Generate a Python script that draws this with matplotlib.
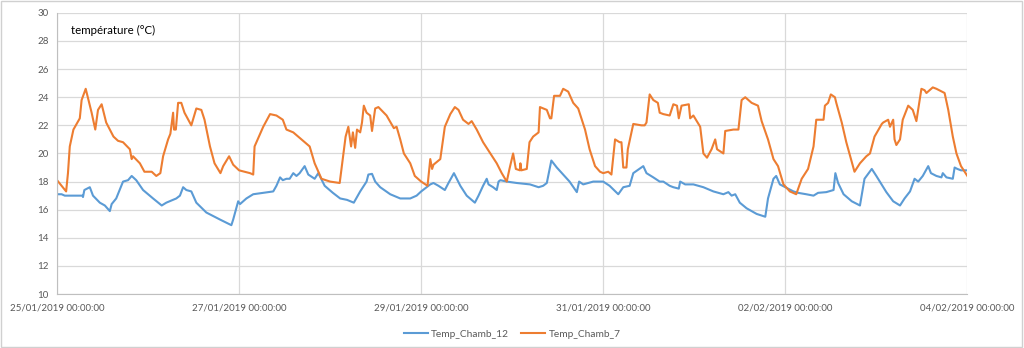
import matplotlib
matplotlib.use("Agg")
import matplotlib.pyplot as plt
import matplotlib.dates as mdates
import matplotlib.patches as patches
import pandas as pd

# days elapsed since 25/01/2019 00:00 and temperature (°C)
chamb12_days = [
    0.0, 0.05, 0.085, 0.21, 0.28, 0.285, 0.30, 0.36, 0.395, 0.47, 0.525, 0.58, 0.60, 0.65,
    0.725, 0.78, 0.82, 0.87, 0.945, 1.055, 1.15, 1.20, 1.275, 1.31, 1.35, 1.385, 1.42, 1.475,
    1.53, 1.64, 1.79, 1.915, 1.935, 1.99, 2.01, 2.08, 2.155, 2.265, 2.375, 2.41, 2.45, 2.48,
    2.52, 2.555, 2.595, 2.63, 2.665, 2.72, 2.76, 2.83, 2.87, 2.94, 3.03, 3.11, 3.185, 3.26,
    3.33, 3.40, 3.42, 3.46, 3.495, 3.55, 3.66, 3.77, 3.88, 3.95, 4.0, 4.06, 4.10, 4.135, 4.19,
    4.26, 4.30, 4.36, 4.43, 4.50, 4.59, 4.63, 4.68, 4.72, 4.74, 4.79, 4.83, 4.85, 4.87, 4.94,
    5.05, 5.195, 5.29, 5.34, 5.38, 5.43, 5.49, 5.56, 5.63, 5.71, 5.735, 5.78, 5.89, 6.0, 6.07,
    6.165, 6.22, 6.29, 6.33, 6.44, 6.475, 6.55, 6.62, 6.66, 6.73, 6.77, 6.83, 6.845, 6.90,
    6.99, 7.10, 7.21, 7.32, 7.375, 7.41, 7.45, 7.50, 7.575, 7.685, 7.78, 7.81, 7.87, 7.90,
    7.94, 8.0, 8.09, 8.14, 8.23, 8.31, 8.36, 8.45, 8.53, 8.55, 8.58, 8.64, 8.73, 8.82, 8.87,
    8.95, 9.0, 9.11, 9.185, 9.26, 9.31, 9.37, 9.42, 9.46, 9.51, 9.57, 9.60, 9.66, 9.715, 9.73,
    9.77, 9.84, 9.86, 9.89, 9.93, 10.0,
]
chamb12_temp = [
    17.1, 17.1, 17.0, 17.0, 17.0, 16.9, 17.4, 17.6, 17.0, 16.5, 16.3, 15.9, 16.4, 16.8,
    18.0, 18.1, 18.4, 18.1, 17.4, 16.8, 16.3, 16.5, 16.7, 16.8, 17.0, 17.6, 17.4, 17.3,
    16.5, 15.8, 15.3, 14.9, 15.3, 16.6, 16.4, 16.8, 17.1, 17.2, 17.3, 17.7, 18.3, 18.1,
    18.2, 18.2, 18.6, 18.4, 18.6, 19.1, 18.5, 18.2, 18.6, 17.7, 17.2, 16.8, 16.7, 16.5,
    17.3, 18.0, 18.5, 18.55, 18.0, 17.6, 17.1, 16.8, 16.8, 17.0, 17.3, 17.6, 17.8, 17.9, 17.7,
    17.4, 17.9, 18.6, 17.7, 17.0, 16.5, 17.0, 17.7, 18.2, 17.8, 17.6, 17.4, 18.0, 18.1, 18.0,
    17.9, 17.8, 17.6, 17.7, 17.9, 19.5, 19.0, 18.5, 18.0, 17.25, 18.0, 17.8, 18.0, 18.0, 17.7,
    17.1, 17.6, 17.7, 18.6, 19.1, 18.6, 18.3, 18.0, 18.0, 17.7, 17.6, 17.5, 18.0, 17.8,
    17.8, 17.6, 17.3, 17.1, 17.25, 17.0, 17.1, 16.5, 16.1, 15.7, 15.5, 16.8, 18.2, 18.4,
    17.8, 17.6, 17.3, 17.2, 17.1, 17.0, 17.2, 17.25, 17.4, 18.6, 17.9, 17.1, 16.6, 16.3, 18.2,
    18.9, 18.4, 17.25, 16.6, 16.3, 16.8, 17.3, 18.2, 18.0, 18.4, 19.1, 18.6, 18.4, 18.3, 18.6,
    18.3, 18.2, 19.0, 18.9, 18.8, 18.8,
]

chamb7_days = [
    0.0, 0.10, 0.12, 0.14, 0.18, 0.25, 0.27, 0.315, 0.38, 0.42, 0.45, 0.49, 0.54, 0.62, 0.67,
    0.725, 0.80, 0.82, 0.835, 0.91, 0.96, 1.04, 1.09, 1.135, 1.165, 1.22, 1.245, 1.275, 1.285,
    1.305, 1.33, 1.365, 1.40, 1.475, 1.53, 1.585, 1.62, 1.68, 1.73, 1.795, 1.825, 1.89, 1.935,
    2.0, 2.12, 2.155, 2.17, 2.265, 2.34, 2.41, 2.48, 2.52, 2.595, 2.72, 2.775, 2.83, 2.905,
    3.0, 3.105, 3.17, 3.20, 3.23, 3.25, 3.275, 3.295, 3.33, 3.35, 3.37, 3.40, 3.44, 3.46,
    3.495, 3.53, 3.62, 3.70, 3.73, 3.77, 3.81, 3.88, 3.93, 4.0, 4.07, 4.10, 4.12, 4.135, 4.21,
    4.26, 4.32, 4.37, 4.41, 4.46, 4.50, 4.52, 4.555, 4.61, 4.68, 4.76, 4.83, 4.885, 4.94,
    4.97, 5.01, 5.04, 5.085, 5.09, 5.10, 5.16, 5.19, 5.23, 5.29, 5.305, 5.38, 5.415, 5.43,
    5.46, 5.525, 5.56, 5.615, 5.67, 5.725, 5.74, 5.80, 5.85, 5.91, 5.965, 6.0, 6.055, 6.09,
    6.13, 6.18, 6.20, 6.22, 6.255, 6.27, 6.33, 6.42, 6.455, 6.475, 6.51, 6.55, 6.60, 6.62,
    6.66, 6.73, 6.77, 6.81, 6.83, 6.86, 6.94, 6.955, 6.99, 7.065, 7.10, 7.14, 7.19, 7.23,
    7.25, 7.32, 7.34, 7.43, 7.485, 7.52, 7.56, 7.63, 7.70, 7.74, 7.81, 7.87, 7.92, 7.98,
    8.05, 8.12, 8.18, 8.25, 8.31, 8.34, 8.42, 8.435, 8.47, 8.50, 8.545, 8.56, 8.62, 8.67,
    8.76, 8.82, 8.89, 8.93, 8.98, 9.06, 9.075, 9.13, 9.15, 9.185, 9.20, 9.22, 9.26, 9.29,
    9.35, 9.40, 9.44, 9.495, 9.53, 9.55, 9.62, 9.66, 9.75, 9.79, 9.84, 9.88, 9.93, 9.97, 10.0,
]
chamb7_temp = [
    18.1, 17.3, 18.6, 20.5, 21.7, 22.5, 23.8, 24.6, 22.9, 21.7, 23.1, 23.5, 22.2, 21.2, 20.9,
    20.8, 20.3, 19.6, 19.8, 19.3, 18.7, 18.7, 18.4, 18.6, 19.8, 21.0, 21.4, 22.9, 21.7,
    21.7, 23.6, 23.6, 22.9, 22.0, 23.2, 23.1, 22.4, 20.5, 19.3, 18.6, 19.1, 19.8, 19.2,
    18.8, 18.6, 18.5, 20.5, 21.9, 22.8, 22.7, 22.4, 21.7, 21.5, 20.8, 20.5, 19.3, 18.2,
    18.0, 17.9, 21.2, 21.9, 20.5, 21.5, 20.4, 21.7, 21.5, 22.2, 23.4, 22.9, 22.7, 21.6,
    23.2, 23.3, 22.7, 21.8, 21.9, 21.0, 20.0, 19.3, 18.4, 18.0, 17.7, 19.6, 18.9, 19.2, 19.6,
    21.9, 22.8, 23.3, 23.1, 22.4, 22.2, 22.1, 22.3, 21.7, 20.8, 20.0, 19.3, 18.6, 18.0,
    18.9, 20.0, 18.9, 18.8, 19.3, 18.8, 18.9, 20.8, 21.2, 21.5, 23.3, 23.1, 22.5, 22.5,
    24.1, 24.1, 24.6, 24.4, 23.6, 23.2, 22.9, 21.7, 20.3, 19.1, 18.7, 18.6, 18.7, 18.5,
    21.0, 20.8, 20.8, 19.0, 19.0, 20.3, 22.1, 22.0, 22.0, 22.2, 24.2, 23.8, 23.6, 22.9,
    22.8, 22.7, 23.5, 23.4, 22.5, 23.4, 23.5, 22.5, 22.7, 21.9, 20.0, 19.7, 20.3, 21.0,
    20.3, 20.0, 21.6, 21.7, 21.7, 23.8, 24.0, 23.6, 23.4, 22.3, 21.0, 19.6, 19.1, 17.8,
    17.3, 17.1, 18.2, 18.9, 20.5, 22.4, 22.4, 23.4, 23.6, 24.2, 24.0, 23.6, 22.2, 20.8,
    18.7, 19.3, 19.8, 20.0, 21.2, 22.1, 22.2, 22.4, 21.9, 22.4, 21.0, 20.6, 21.0, 22.4,
    23.4, 23.1, 22.3, 24.6, 24.5, 24.3, 24.7, 24.6, 24.3, 23.1, 21.2, 20.0, 19.1, 18.7, 18.4,
]

series_names = ["Temp_Chamb_12", "Temp_Chamb_7"]
y_label = "température (°C)"

start = pd.Timestamp("2019-01-25")
end = pd.Timestamp("2019-02-04")

plt.rcParams["font.family"] = ["Lato", "DejaVu Sans"]

fig = plt.figure(figsize=(10.24, 3.48), dpi=100)
ax = fig.add_axes([0.0557, 0.155, 0.889, 0.808])

t12 = start + pd.to_timedelta(chamb12_days, unit="D")
t7 = start + pd.to_timedelta(chamb7_days, unit="D")
ax.plot(t12, chamb12_temp, color="#5B9BD5", lw=1.5, label=series_names[0])
ax.plot(t7, chamb7_temp, color="#ED7D31", lw=1.5, label=series_names[1])

ax.set_xlim(start, end)
ax.set_ylim(10, 30)
ax.set_yticks(range(10, 31, 2))
ax.set_xticks(pd.date_range(start, end, freq="2D"))
ax.xaxis.set_major_formatter(mdates.DateFormatter("%d/%m/%Y %H:%M:%S"))

ax.grid(True, color="#d9d9d9", lw=0.9)
ax.set_axisbelow(True)
for side in ["top", "right"]:
    ax.spines[side].set_visible(False)
for side in ["left", "bottom"]:
    ax.spines[side].set_color("#bfbfbf")
ax.tick_params(length=0, colors="#595959", labelsize=7)
ax.tick_params(axis="x", pad=7)
ax.tick_params(axis="y", pad=6)

ax.text(0.015, 0.925, y_label, transform=ax.transAxes, fontsize=8.3, color="#000000")

fig.legend(loc="lower center", bbox_to_anchor=(0.5, 0.0), ncol=2, frameon=False,
           fontsize=7.3, labelcolor="#595959", handlelength=2.4, handletextpad=0.3,
           columnspacing=1.2)

fig.patches.append(patches.Rectangle((0.001, 0.002), 0.997, 0.995, transform=fig.transFigure,
                                     fill=False, edgecolor="#d0d0d0", lw=1))

fig.savefig("out.png", dpi=100)
